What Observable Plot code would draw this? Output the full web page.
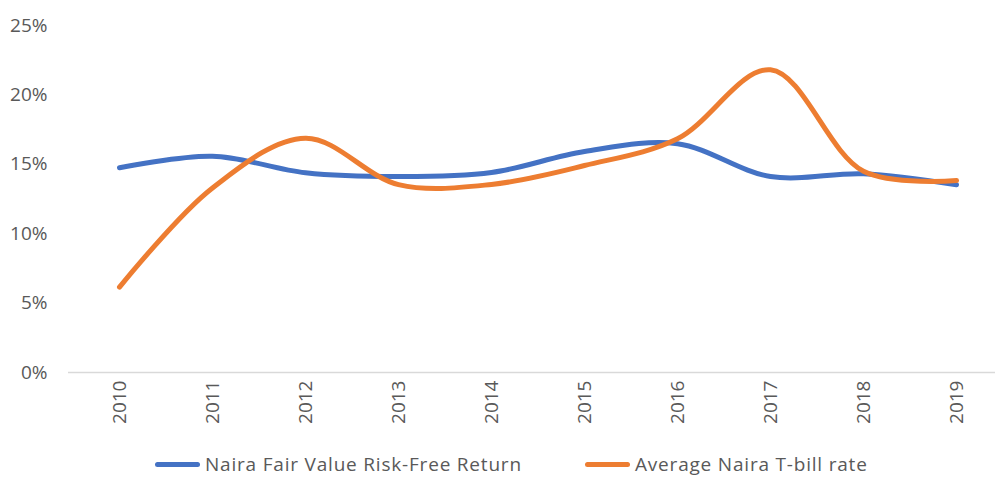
<!DOCTYPE html>
<html>
<head>
<meta charset="utf-8">
<script src="https://cdn.jsdelivr.net/npm/d3@7"></script>
<script src="https://cdn.jsdelivr.net/npm/@observablehq/plot@0.6"></script>
<style>
  html, body { margin: 0; padding: 0; background: #fff; }
  #wrap { position: relative; width: 995px; height: 479px; font-family: "Open Sans", sans-serif; }
  #legend { position: absolute; left: 0; top: 449px; width: 995px; height: 30px; }
  .item { position: absolute; top: 0; height: 30px; display: flex; align-items: center; font-size: 19px; letter-spacing: 0.8px; color: #595959; white-space: nowrap; }
  .sw { width: 45px; height: 5px; border-radius: 3px; margin-right: 5px; }
</style>
</head>
<body>
<div id="wrap">
  <div id="chart"></div>
  <div id="legend"></div>
</div>
<script>
const years = ["2010","2011","2012","2013","2014","2015","2016","2017","2018","2019"];
const fairValue = [14.75, 15.58, 14.39, 14.12, 14.41, 15.92, 16.48, 14.12, 14.32, 13.52];
const tbillRate = [6.15, 13.3, 16.88, 13.54, 13.55, 14.91, 16.84, 21.81, 14.5, 13.83];
const seriesNames = ["Naira Fair Value Risk-Free Return", "Average Naira T-bill rate"];
const seriesColors = ["#4472C4", "#ED7D31"];
const yTicks = [0, 5, 10, 15, 20, 25];

const rows = [];
years.forEach((y, i) => {
  rows.push({year: y, value: fairValue[i], series: seriesNames[0]});
  rows.push({year: y, value: tbillRate[i], series: seriesNames[1]});
});

const chart = Plot.plot({
  width: 995,
  height: 445,
  marginLeft: 68,
  marginRight: 0,
  marginTop: 25,
  marginBottom: 73,
  style: {fontFamily: "'Open Sans', sans-serif", fontSize: "19px", color: "#595959", background: "#fff"},
  x: {type: "point", domain: years, range: [115, 960], padding: 0, label: null},
  y: {domain: [0, 25], label: null},
  color: {domain: seriesNames, range: seriesColors},
  marks: [
    Plot.ruleY([0], {stroke: "#d9d9d9", strokeWidth: 1.5}),
    Plot.axisY({ticks: yTicks, tickFormat: d => d + "%", tickSize: 0, tickPadding: 21, fontSize: 19, label: null}),
    Plot.axisX({tickSize: 0, tickRotate: -90, tickPadding: 8, fontSize: 19, label: null}),
    Plot.line(rows, {x: "year", y: "value", z: "series", stroke: "series", strokeWidth: 5, curve: "catmull-rom", strokeLinecap: "round"})
  ]
});
document.getElementById("chart").appendChild(chart);

const legend = document.getElementById("legend");
const lefts = [155, 585];
seriesNames.forEach((name, i) => {
  const it = document.createElement("div");
  it.className = "item";
  it.style.left = lefts[i] + "px";
  const sw = document.createElement("div");
  sw.className = "sw";
  sw.style.background = seriesColors[i];
  const tx = document.createElement("span");
  tx.textContent = name;
  it.appendChild(sw);
  it.appendChild(tx);
  legend.appendChild(it);
});
</script>
</body>
</html>
